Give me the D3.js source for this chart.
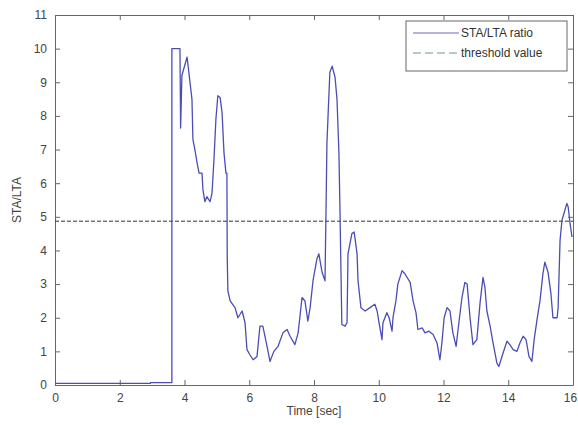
<!DOCTYPE html>
<html>
<head>
<meta charset="utf-8">
<script src="https://cdn.jsdelivr.net/npm/d3@7"></script>
<style>
  body { margin: 0; background: #fff; }
  text { font-family: "Liberation Sans", Arial, sans-serif; }
</style>
</head>
<body>
<script>
// time [sec] and STA/LTA ratio
const times = [0, 2.95, 2.95, 3.61, 3.61, 3.86, 3.88, 3.92, 4.08, 4.23, 4.26, 4.32, 4.39, 4.45,
  4.54, 4.57, 4.63, 4.69, 4.79, 4.85, 4.91, 4.97, 5.03, 5.10, 5.16, 5.22, 5.28, 5.31, 5.32,
  5.34, 5.41, 5.56, 5.65, 5.78, 5.87, 5.93, 6.02, 6.12, 6.24, 6.33, 6.42, 6.55, 6.64, 6.76,
  6.89, 7.04, 7.17, 7.26, 7.41, 7.51, 7.63, 7.72, 7.81, 7.88, 7.97, 8.09, 8.15, 8.25, 8.34,
  8.40, 8.43, 8.49, 8.56, 8.65, 8.71, 8.77, 8.80, 8.86, 8.96, 9.02, 9.05, 9.17, 9.24, 9.33,
  9.36, 9.45, 9.58, 9.73, 9.88, 9.95, 10.01, 10.10, 10.13, 10.25, 10.32, 10.41, 10.44, 10.53,
  10.59, 10.72, 10.81, 10.97, 11.06, 11.15, 11.21, 11.34, 11.43, 11.55, 11.68, 11.80, 11.89,
  11.95, 12.02, 12.11, 12.20, 12.29, 12.39, 12.45, 12.57, 12.66, 12.73, 12.82, 12.91, 13.03,
  13.13, 13.22, 13.28, 13.34, 13.44, 13.53, 13.65, 13.71, 13.84, 13.96, 14.05, 14.15, 14.27,
  14.36, 14.46, 14.55, 14.64, 14.73, 14.80, 14.89, 14.98, 15.07, 15.13, 15.23, 15.32, 15.38,
  15.51, 15.54, 15.60, 15.66, 15.72, 15.81, 15.85, 15.91, 15.97, 16.0];
const ratio = [0.05, 0.05, 0.07, 0.07, 10, 10, 7.64, 9.2, 9.75, 8.5, 7.3, 7.0, 6.6, 6.3,
  6.3, 5.8, 5.45, 5.6, 5.45, 5.7, 6.7, 7.9, 8.6, 8.55, 8.1, 6.9, 6.3, 6.3, 3.8,
  2.8, 2.5, 2.3, 2.0, 2.2, 1.85, 1.05, 0.9, 0.75, 0.85, 1.75, 1.75, 1.15, 0.7, 1.0,
  1.15, 1.55, 1.65, 1.45, 1.2, 1.55, 2.6, 2.5, 1.9, 2.3, 3.1, 3.75, 3.9, 3.35, 3.1,
  7.2, 7.9, 9.3, 9.48, 9.15, 8.5, 6.9, 5.3, 1.8, 1.75, 1.85, 3.9, 4.5, 4.55, 3.9,
  3.1, 2.3, 2.2, 2.3, 2.4, 2.2, 1.85, 1.35, 1.85, 2.15, 2.0, 1.6, 2.0, 2.5,
  3.0, 3.4, 3.3, 3.05, 2.5, 2.15, 1.65, 1.7, 1.55, 1.6, 1.5, 1.25, 0.75,
  1.25, 2.0, 2.3, 2.2, 1.55, 1.15, 1.65, 2.6, 3.05, 3.0, 2.0, 1.2, 1.35,
  2.45, 3.2, 2.9, 2.2, 1.75, 1.25, 0.65, 0.55, 0.95, 1.3, 1.2, 1.05, 1.0,
  1.25, 1.45, 1.35, 0.85, 0.7, 1.35, 1.95, 2.5, 3.3, 3.65, 3.35, 2.7, 2.0,
  2.0, 2.3, 4.3, 4.9, 5.1, 5.4, 5.3, 4.8, 4.4];
const threshold = 4.87;
const xTicks = [0, 2, 4, 6, 8, 10, 12, 14, 16];
const yTicks = [0, 1, 2, 3, 4, 5, 6, 7, 8, 9, 10, 11];
const legendLabels = ["STA/LTA ratio", "threshold value"];

const width = 578;
const height = 425;
const margin = { top: 15, right: 5, bottom: 40, left: 55 };

const svg = d3.select("body")
  .append("svg")
  .attr("width", width)
  .attr("height", height);

const x = d3.scaleLinear()
  .domain([0, 16])
  .range([margin.left, width - margin.right]);

const y = d3.scaleLinear()
  .domain([0, 11])
  .range([height - margin.bottom, margin.top]);

const axisColor = "#666";
const labelColor = "#444";

// axes with inward ticks, MATLAB style box
function styleAxis(g, showLabels) {
  g.select(".domain").attr("stroke", axisColor);
  g.selectAll(".tick line").attr("stroke", axisColor);
  g.selectAll(".tick text")
    .attr("fill", labelColor)
    .style("font-size", "12px")
    .style("display", showLabels ? null : "none");
}

svg.append("g")
  .attr("transform", `translate(0, ${y(0)})`)
  .call(d3.axisBottom(x).tickValues(xTicks).tickSizeInner(-5).tickSizeOuter(0).tickPadding(8))
  .call(g => styleAxis(g, true))
  // last label sits at the window edge, nudge it in
  .call(g => g.selectAll(".tick text").filter(d => d === 16).attr("dx", -3));

svg.append("g")
  .attr("transform", `translate(0, ${y(11)})`)
  .call(d3.axisTop(x).tickValues(xTicks).tickSizeInner(-5).tickSizeOuter(0))
  .call(g => styleAxis(g, false));

svg.append("g")
  .attr("transform", `translate(${x(0)}, 0)`)
  .call(d3.axisLeft(y).tickValues(yTicks).tickSizeInner(-5).tickSizeOuter(0).tickPadding(8))
  .call(g => styleAxis(g, true));

svg.append("g")
  .attr("transform", `translate(${x(16)}, 0)`)
  .call(d3.axisRight(y).tickValues(yTicks).tickSizeInner(-5).tickSizeOuter(0))
  .call(g => styleAxis(g, false));

// axis titles
svg.append("text")
  .attr("x", (x(0) + x(16)) / 2)
  .attr("y", height - 10)
  .attr("text-anchor", "middle")
  .attr("fill", labelColor)
  .style("font-size", "12px")
  .text("Time [sec]");

svg.append("text")
  .attr("transform", `translate(21, ${(y(0) + y(11)) / 2}) rotate(-90)`)
  .attr("text-anchor", "middle")
  .attr("fill", labelColor)
  .style("font-size", "12px")
  .text("STA/LTA");

// threshold line
svg.append("line")
  .attr("x1", x(0))
  .attr("x2", x(16))
  .attr("y1", y(threshold))
  .attr("y2", y(threshold))
  .attr("stroke", "#2b3330")
  .attr("stroke-width", 1)
  .attr("stroke-dasharray", "4,2");

// STA/LTA ratio
const data = times.map((t, i) => ({ t: t, v: ratio[i] }));

const line = d3.line()
  .x(d => x(d.t))
  .y(d => y(d.v));

svg.append("path")
  .datum(data)
  .attr("fill", "none")
  .attr("stroke", "#4b4db5")
  .attr("stroke-width", 1.3)
  .attr("stroke-linejoin", "round")
  .attr("d", line);

// legend
const legend = svg.append("g");

legend.append("rect")
  .attr("x", 406)
  .attr("y", 21)
  .attr("width", 161)
  .attr("height", 50)
  .attr("fill", "#fff")
  .attr("stroke", axisColor);

legend.append("line")
  .attr("x1", 413).attr("x2", 459)
  .attr("y1", 33).attr("y2", 33)
  .attr("stroke", "#6a6ac0")
  .attr("stroke-width", 1.2);

legend.append("line")
  .attr("x1", 413).attr("x2", 459)
  .attr("y1", 53).attr("y2", 53)
  .attr("stroke", "#6f9a7c")
  .attr("stroke-width", 1.2)
  .attr("stroke-dasharray", "8,4");

legend.selectAll("text.lbl")
  .data(legendLabels)
  .enter()
  .append("text")
  .attr("class", "lbl")
  .attr("x", 461)
  .attr("y", (d, i) => 37 + i * 20)
  .attr("fill", "#333")
  .style("font-size", "12px")
  .text(d => d);
</script>
</body>
</html>
